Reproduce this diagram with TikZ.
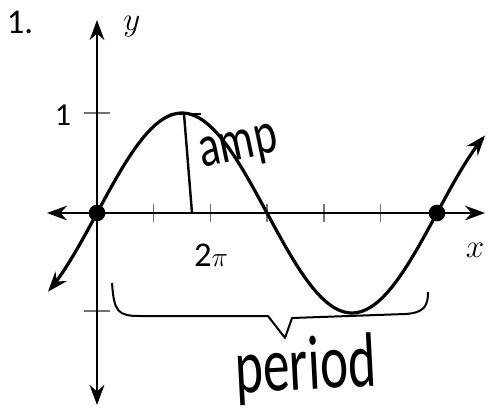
\documentclass[tikz,border=0pt]{standalone}
\usepackage{fontspec}
\setmainfont{Carlito}
\usetikzlibrary{arrows.meta}
\begin{document}
\begin{tikzpicture}[
    x=0.75pt, y=-0.75pt,
    >={Stealth[length=15pt,width=11pt]},
    axis/.style={<->, line width=2pt, draw=black},
    wave/.style={<->, line width=2.4pt, draw=black},
    tickmark/.style={line width=1.1pt, draw=black!55},
    ampline/.style={line width=1.8pt, draw=black},
    brace/.style={line width=1.5pt, draw=black, line join=round},
    dot/.style={circle, fill=black, inner sep=0pt, minimum size=12.5pt},
    lbl/.style={inner sep=0pt, font=\fontsize{26}{26}\selectfont},
    hand/.style={inner sep=0pt}
]
    \useasboundingbox (0,0) rectangle (488,411);

    % axes
    \coordinate (xl) at (47,213);
    \coordinate (xr) at (485,213);
    \coordinate (yt) at (97,20);
    \coordinate (yb) at (97,405);

    \foreach \t in {1,...,5}
        \draw[tickmark] (97+56.7*\t,204) -- (97+56.7*\t,222);
    \draw[tickmark] (84,113) -- (110,113);
    \draw[tickmark] (84,311) -- (110,311);

    \draw[axis] (xl) -- (xr);
    \draw[axis] (yb) -- (yt);

    % one period of the wave
    \draw[wave] plot[domain=48:485, samples=120, smooth]
        (\x, {213-100*sin(1.0588*(\x-97))});
    \draw[line width=2.2pt] (170,114) -- (201,114);

    \node[dot] (start) at (97,213) {};
    \node[dot] (stop) at (437,213) {};

    % amplitude
    \coordinate (peak) at (184,114);
    \coordinate (foot) at (192,213);
    \draw[ampline] (peak) -- (foot);

    % brace under the period
    \draw[brace] (112,283) .. controls (114,312) and (118,316) .. (140,316)
        -- (268,316) -- (285,338) -- (292,318) -- (405,314)
        .. controls (425,313) and (428,305) .. (428,292);

    \node[lbl] (num) at (20,22) {1.};
    \node[lbl, font=\fontsize{32}{32}\selectfont] (ylab) at (132,27) {$y$};
    \node[lbl, font=\fontsize{24}{24}\selectfont] (one) at (63,115) {1};
    \node[lbl] (twopi) at (211,255)
        {{\fontsize{26}{26}\selectfont 2}{\fontsize{21}{21}\selectfont$\pi$}};
    \node[lbl, font=\fontsize{28}{28}\selectfont] (xlab) at (475,250) {$x$};

    \node[hand, rotate=12] (amplab) at (239,150)
        {\scalebox{1}[1.35]{\fontsize{33}{33}\selectfont amp}};
    \node[hand, rotate=3] (perlab) at (306,369)
        {\scalebox{1}[1.45]{\fontsize{40}{40}\selectfont period}};
\end{tikzpicture}
\end{document}
